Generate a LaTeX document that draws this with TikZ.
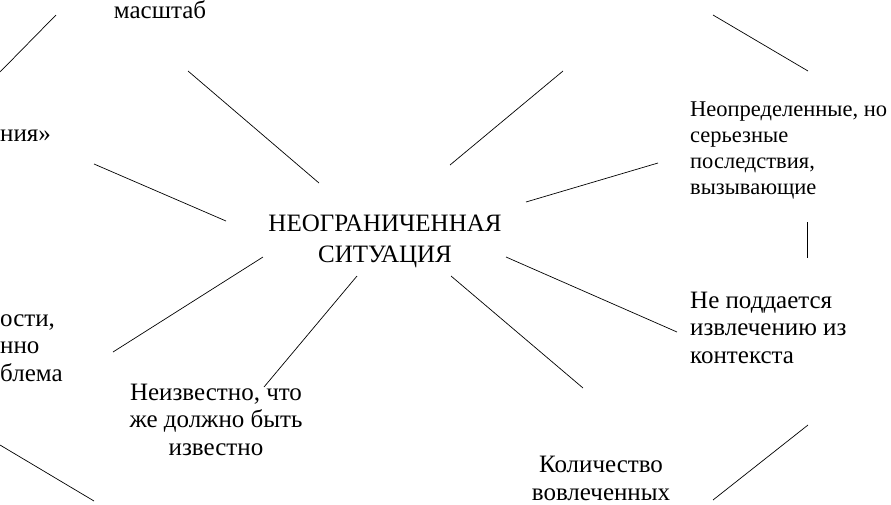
\documentclass[tikz,border=0pt]{standalone}
\usepackage{fontspec}
\setmainfont{Liberation Serif}
\usetikzlibrary{positioning}

\begin{document}
\begin{tikzpicture}[
    x=1pt, y=-1pt,
    spoke/.style={draw=black, line width=0.7pt},
    label/.style={font=\fontsize{25}{27.5}\selectfont, inner sep=0pt, align=left},
    hub/.style={font=\fontsize{25}{31}\selectfont, inner sep=0pt, align=center},
    small/.style={font=\fontsize{22.5}{25.7}\selectfont, inner sep=0pt, align=left}
]

% Frame: the cut-out of the larger map.
\useasboundingbox (0,0) rectangle (891,504);
\clip (0,0) rectangle (891,504);

% Spokes round the centre.
\foreach \n/\ax/\ay/\bx/\by in {1/56/15/0/72, 2/188/71/319/183, 3/94/164/226/221,
    4/713/15/808/71, 5/563/71/450/165, 6/658/163/526/202, 7/807/222/807/258,
    8/263/257/113/352, 9/357/276/264/387, 10/0/445/94/501,
    11/506/257/677/332, 12/451/276/583/388, 13/808/425/713/500} {
    \coordinate (s\n a) at (\ax,\ay);
    \coordinate (s\n b) at (\bx,\by);
    \draw[spoke] (s\n a) -- (s\n b);
}

% Centre (base = last line).
\node[hub, anchor=base] (situation) at (385,262) {НЕОГРАНИЧЕННАЯ\\СИТУАЦИЯ};

% Labels.
\node[label, anchor=base] (scale) at (160,18) {масштаб};
\node[label, anchor=base west] (naming) at (0,141) {ния»};
\node[label, anchor=base west] (problem) at (0,381) {ости,\\нно\\блема};
\node[label, align=center, anchor=base] (unknown) at (216,455)
    {Неизвестно, что\\же должно быть\\известно};
\node[label, align=center, anchor=base] (count) at (601,500)
    {Количество\\вовлеченных};
\node[small, anchor=base west] (consequences) at (690,194)
    {Неопределенные, но\\серьезные\\последствия,\\вызывающие};
\node[label, anchor=base west] (context) at (690,363)
    {Не поддается\\извлечению из\\контекста};

\end{tikzpicture}
\end{document}
